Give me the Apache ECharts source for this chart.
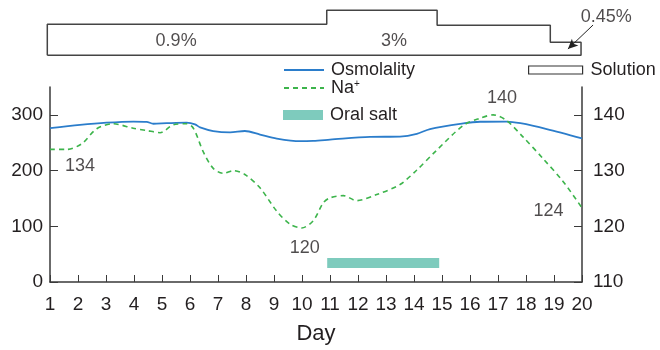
<!DOCTYPE html>
<html><head><meta charset="utf-8">
<script src="https://cdn.jsdelivr.net/npm/echarts@6/dist/echarts.min.js"></script>
<style>html,body{margin:0;padding:0;background:#fff}#c{width:660px;height:350px}</style>
</head><body><div id="c"></div>
<script>
// Osmolality (left axis)
const osmoDays   = [1, 2.07, 3.02, 3.98, 4.45, 4.69, 5.17, 5.88, 6.18, 6.36, 6.83, 7.43, 7.96, 8.5, 9.1, 9.93, 10.4, 11, 12.43, 13.5, 14.1, 14.57, 15.76, 16.36, 17.3, 17.8, 18.74, 20];
const osmoValues = [276, 282, 286, 288, 287.5, 284, 285, 286, 283, 277.5, 271, 268.7, 271, 264.6, 257.5, 252.8, 253.4, 255.5, 260.5, 261, 265.8, 274.6, 284.6, 287.6, 288, 285, 274.6, 258];
// Na+ (right axis)
const naDays   = [1, 1.6, 2.13, 2.67, 3.26, 3.97, 4.45, 4.93, 5.4, 5.88, 6.12, 6.48, 6.83, 7.19, 7.55, 7.96, 8.5, 9.1, 9.57, 9.99, 10.4, 10.76, 11, 11.48, 11.95, 12.67, 13.5, 14.1, 14.8, 15.76, 16.36, 16.83, 17.3, 17.9, 18.6, 19.33, 20];
const naValues = [133.8, 133.8, 134.8, 137.5, 138.4, 137.6, 137.2, 136.8, 138.2, 138.4, 137.6, 133.3, 130.4, 129.5, 130, 129.3, 126.9, 122.7, 120.4, 119.7, 121, 124.2, 125.1, 125.5, 124.6, 125.7, 127.5, 130.1, 133.6, 138.1, 139.4, 140, 139, 136, 132.2, 128, 123.3];
// Oral salt period
const saltDays = [10.9, 14.9];
const saltLevel = [113.4, 113.4];
// Na+ annotations
const annoDays   = [2.07, 10.1, 17.14, 18.8];
const annoValues = [130.75, 116.1, 143.1, 122.8];
const annoLabels = ['134', '120', '140', '124'];
// Solution schematic (outline)
const solDays   = [0.9, 0.9, 10.9, 10.9, 14.85, 14.85, 18.9, 18.9, 20, 20, 0.9];
const solLevels = [0, 31, 31, 45, 45, 30, 30, 13, 13, 0, 0];
const solLabelDays   = [5.51, 13.31, 20.9];
const solLabelLevels = [14.6, 14.6, 38.3];
const solLabelTexts  = ['0.9%', '3%', '0.45%'];
const arrowFrom = [20.43, 30.3];
const arrowTo   = [19.53, 6.3];
// Axis ticks
const leftTicks  = [0, 100, 200, 300];
const rightTicks = [110, 120, 130, 140];

const FONT = "'Liberation Sans Narrow','Arial Narrow','Liberation Sans',Arial,sans-serif";
const TXT = '#231f20';
const AX = '#3a3a3a';

const zip = (a, b) => a.map((v, i) => [v, b[i]]);

const chart = echarts.init(document.getElementById('c'), null, {renderer: 'canvas'});
const legendBase = {
  orient: 'vertical', padding: 0, itemWidth: 40, itemHeight: 2,
  textStyle: {fontFamily: FONT, fontSize: 18, color: TXT, padding: [0, 0, 0, 2],
    rich: {sup: {fontSize: 10, verticalAlign: 'top', padding: [0, 0, 8, 0], fontFamily: FONT, color: TXT}}},
  selectedMode: false
};
chart.setOption({
  animation: false,
  textStyle: {fontFamily: FONT},
  grid: [
    {left: 50, right: 78, top: 87, bottom: 65},
    {left: 47.3, right: 20, top: 10.3, height: 45}
  ],
  legend: [
    Object.assign({}, legendBase, {left: 283, top: 61, data: ['Osmolality']}),
    Object.assign({}, legendBase, {left: 283, top: 79, data: ['Na+'],
      formatter: () => 'Na{sup|+}'}),
    Object.assign({}, legendBase, {left: 283, top: 106, itemHeight: 10, data: [{name: 'Oral salt', icon: 'rect'}]}),
    Object.assign({}, legendBase, {left: 528, top: 61, itemWidth: 54, itemHeight: 8,
      data: [{name: 'Solution', icon: 'rect', itemStyle: {color: '#fff', borderColor: '#333', borderWidth: 1.2}}],
      textStyle: Object.assign({}, legendBase.textStyle, {padding: [0, 0, 0, 3]})})
  ],
  xAxis: [
    {gridIndex: 0, type: 'value', min: 1, max: 20, interval: 1,
      name: 'Day', nameLocation: 'middle', nameGap: 41,
      nameTextStyle: {fontFamily: FONT, fontSize: 22, color: TXT},
      axisLine: {lineStyle: {color: AX, width: 1.5}},
      axisTick: {inside: true, length: 7, lineStyle: {color: AX, width: 1}},
      axisLabel: {fontFamily: FONT, fontSize: 19, color: TXT, margin: 13},
      splitLine: {show: false}},
    {gridIndex: 1, type: 'value', min: 0.9, max: 22.11, show: false}
  ],
  yAxis: [
    {gridIndex: 0, type: 'value', min: 0, max: 350, position: 'left',
      axisLine: {show: true, lineStyle: {color: AX, width: 1.5}},
      axisTick: {show: true, inside: true, length: 8, customValues: leftTicks, lineStyle: {color: AX}},
      axisLabel: {fontFamily: FONT, fontSize: 19, color: TXT, margin: 7, customValues: leftTicks},
      splitLine: {show: false}},
    {gridIndex: 0, type: 'value', min: 110, max: 145, position: 'right',
      axisLine: {show: true, lineStyle: {color: AX, width: 1.5}},
      axisTick: {show: true, inside: true, length: 8, customValues: rightTicks, lineStyle: {color: AX}},
      axisLabel: {fontFamily: FONT, fontSize: 19, color: TXT, margin: 11, customValues: rightTicks},
      splitLine: {show: false}},
    {gridIndex: 1, type: 'value', min: 0, max: 45, show: false}
  ],
  series: [
    {name: 'Osmolality', type: 'line', xAxisIndex: 0, yAxisIndex: 0,
      data: zip(osmoDays, osmoValues), smooth: 0.3, symbol: 'none',
      lineStyle: {color: '#2b7dcb', width: 1.8}, itemStyle: {color: '#2b7dcb'}},
    {name: 'Na+', type: 'line', xAxisIndex: 0, yAxisIndex: 1,
      data: zip(naDays, naValues), smooth: 0.3, symbol: 'none',
      lineStyle: {color: '#3cb44b', width: 1.6, type: [5, 4]}, itemStyle: {color: '#3cb44b'}},
    {name: 'Oral salt', type: 'line', xAxisIndex: 0, yAxisIndex: 1,
      data: zip(saltDays, saltLevel), symbol: 'none',
      lineStyle: {color: '#7ecbbd', width: 10, cap: 'butt'}, itemStyle: {color: '#7ecbbd'}},
    {name: 'annotations', type: 'scatter', xAxisIndex: 0, yAxisIndex: 1,
      data: annoDays.map((d, i) => [d, annoValues[i], annoLabels[i]]),
      symbolSize: 0, clip: false, silent: true,
      label: {show: true, position: 'inside', formatter: p => p.value[2],
        fontFamily: FONT, fontSize: 18, color: TXT}},
    {name: 'Solution', type: 'line', xAxisIndex: 1, yAxisIndex: 2,
      data: zip(solDays, solLevels), symbol: 'none', clip: false,
      lineStyle: {color: '#444', width: 1.5}, itemStyle: {color: '#fff', borderColor: '#333'},
      markLine: {silent: true, symbol: ['none', 'arrow'], symbolSize: [7, 10],
        label: {show: false}, lineStyle: {color: '#222', width: 1, type: 'solid'},
        data: [[{coord: arrowFrom}, {coord: arrowTo}]]}},
    {name: 'solLabels', type: 'scatter', xAxisIndex: 1, yAxisIndex: 2,
      data: solLabelDays.map((d, i) => [d, solLabelLevels[i], solLabelTexts[i]]),
      symbolSize: 0, clip: false, silent: true,
      label: {show: true, position: 'inside', formatter: p => p.value[2],
        fontFamily: FONT, fontSize: 18, color: TXT}}
  ]
});
</script>
</body></html>
